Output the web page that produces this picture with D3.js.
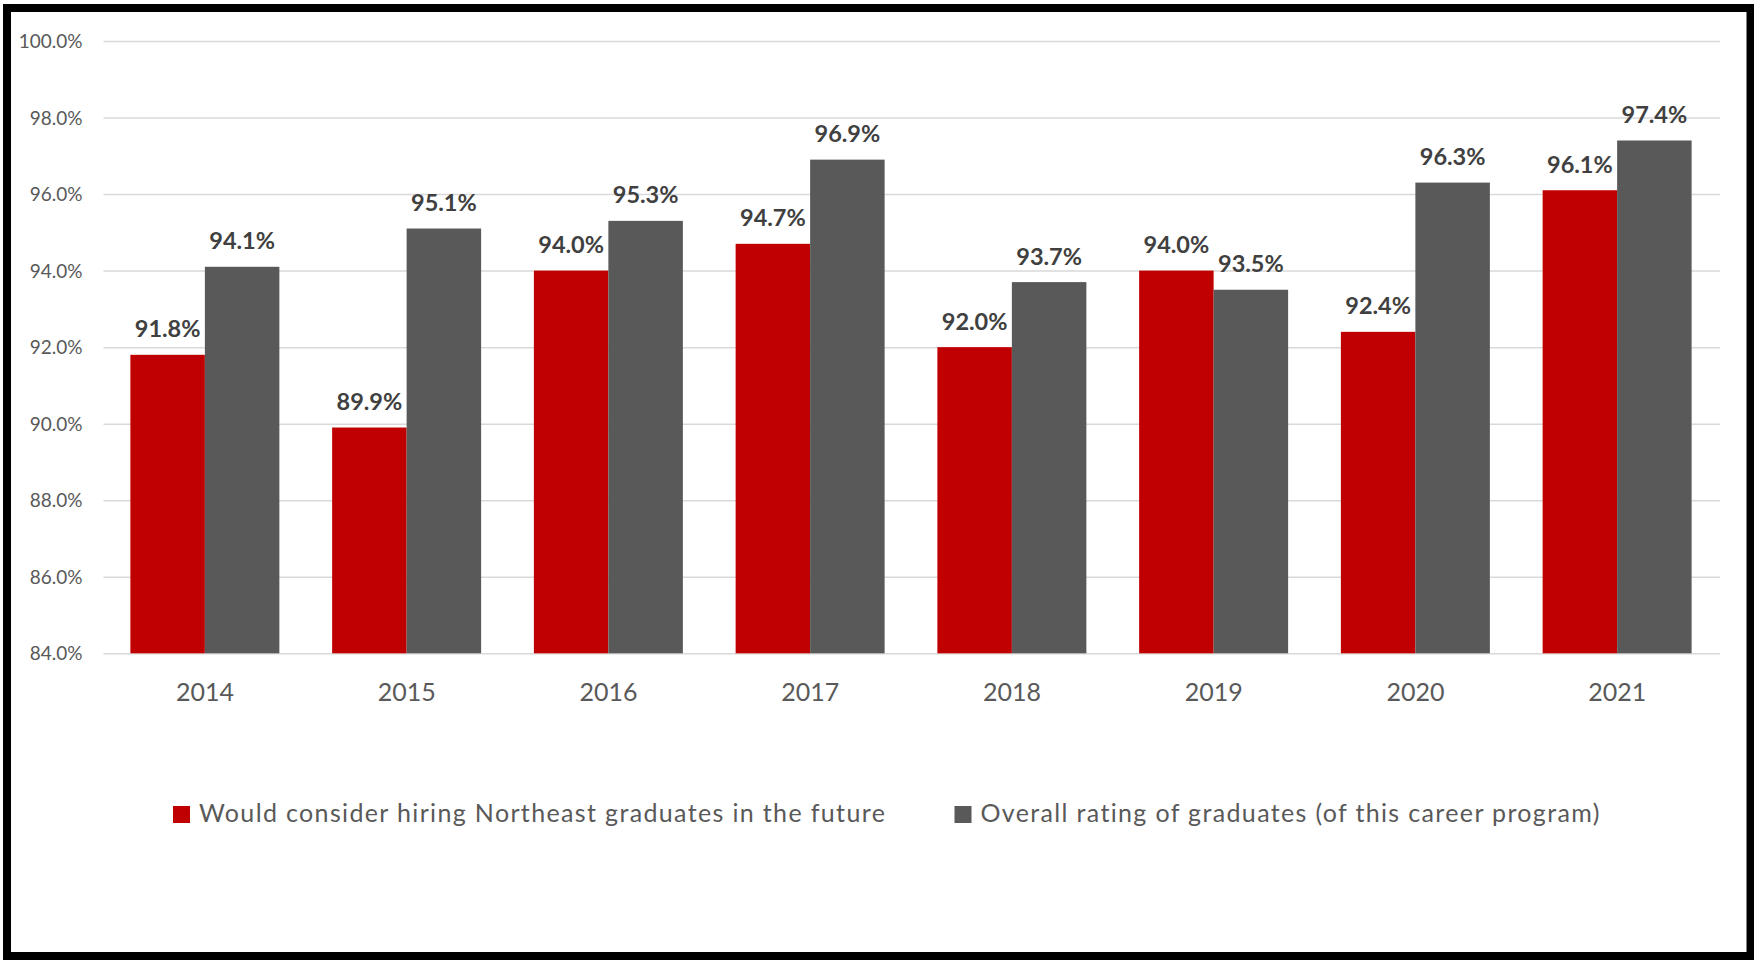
<!DOCTYPE html>
<html>
<head>
<meta charset="utf-8">
<script src="https://cdn.jsdelivr.net/npm/d3@7"></script>
<style>
  html, body { margin: 0; padding: 0; background: #ffffff; }
  svg { display: block; }
  text { font-family: Lato, "Open Sans", sans-serif; }
</style>
</head>
<body>
<svg id="chart" width="1754" height="960"></svg>
<script>
// Survey results by year
const years = ["2014", "2015", "2016", "2017", "2018", "2019", "2020", "2021"];
const seriesNames = [
  "Would consider hiring Northeast graduates in the future",
  "Overall rating of graduates (of this career program)"
];
const wouldHire = [91.8, 89.9, 94.0, 94.7, 92.0, 94.0, 92.4, 96.1];
const overallRating = [94.1, 95.1, 95.3, 96.9, 93.7, 93.5, 96.3, 97.4];
const yTicks = [84, 86, 88, 90, 92, 94, 96, 98, 100];
const seriesColors = ["#C00000", "#595959"];

const series = [wouldHire, overallRating];

const svg = d3.select("#chart");

// outer frame
svg.append("rect")
  .attr("x", 7).attr("y", 8)
  .attr("width", 1743.5).attr("height", 948)
  .attr("fill", "#ffffff")
  .attr("stroke", "#000000")
  .attr("stroke-width", 8);

const plot = { left: 103.5, right: 1720, top: 41, bottom: 653.3 };

const y = d3.scaleLinear().domain([84, 100]).range([plot.bottom, plot.top]);

const x = d3.scaleBand()
  .domain(years)
  .range([104, 1718])
  .paddingInner(0.2615)
  .paddingOuter(0.13075);

const xs = d3.scaleBand()
  .domain(d3.range(series.length))
  .range([0, x.bandwidth()]);

// gridlines + tick labels
const yAxis = d3.axisLeft(y)
  .tickValues(yTicks)
  .tickSize(-(plot.right - plot.left))
  .tickPadding(21)
  .tickFormat(d => d.toFixed(1) + "%");

const gy = svg.append("g")
  .attr("transform", `translate(${plot.left},0)`)
  .call(yAxis);
gy.select(".domain").remove();
gy.selectAll(".tick line").attr("stroke", "#d9d9d9").attr("stroke-width", 1.5);
gy.selectAll(".tick text")
  .attr("fill", "#595959")
  .attr("font-size", 19)
  .attr("dy", "0.35em");

// bars
series.forEach((vals, si) => {
  const g = svg.append("g");
  g.selectAll("rect")
    .data(vals)
    .join("rect")
    .attr("x", (d, i) => x(years[i]) + xs(si))
    .attr("y", d => y(d))
    .attr("width", xs.bandwidth())
    .attr("height", d => y(84) - y(d))
    .attr("fill", seriesColors[si]);

  g.selectAll("text")
    .data(vals)
    .join("text")
    .attr("x", (d, i) => x(years[i]) + xs(si) + xs.bandwidth() / 2)
    .attr("y", d => y(d) - 17.5)
    .attr("text-anchor", "middle")
    .attr("font-size", 23.5)
    .attr("font-weight", "bold")
    .attr("fill", "#404040")
    .text(d => d.toFixed(1) + "%");
});

// category axis labels
const xAxis = d3.axisBottom(x).tickSize(0).tickPadding(0);
const gx = svg.append("g")
  .attr("transform", `translate(0,${plot.bottom})`)
  .call(xAxis);
gx.select(".domain").remove();
gx.selectAll(".tick text")
  .attr("fill", "#595959")
  .attr("font-size", 25)
  .attr("y", 48)
  .attr("dy", 0);

// legend
const legendItems = [
  { x: 173, color: seriesColors[0], label: seriesNames[0] },
  { x: 954.5, color: seriesColors[1], label: seriesNames[1] }
];
const lg = svg.append("g");
legendItems.forEach(item => {
  lg.append("rect")
    .attr("x", item.x).attr("y", 806)
    .attr("width", 17).attr("height", 17)
    .attr("fill", item.color);
  lg.append("text")
    .attr("x", item.x + 26)
    .attr("y", 821.5)
    .attr("font-size", 25)
    .attr("letter-spacing", 1.35)
    .attr("fill", "#595959")
    .text(item.label);
});
</script>
</body>
</html>
